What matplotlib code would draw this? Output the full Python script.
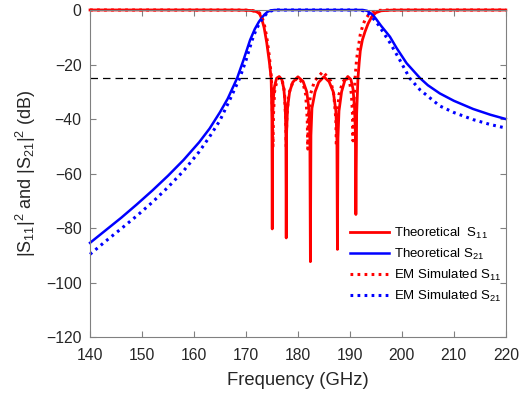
import matplotlib.pyplot as plt

plt.rcParams['font.family'] = ['Liberation Sans', 'DejaVu Sans']
plt.rcParams['mathtext.fontset'] = 'custom'
plt.rcParams['mathtext.rm'] = 'Liberation Sans'
plt.rcParams['mathtext.it'] = 'Liberation Sans'

# Theoretical S11 (GHz, dB)
f_s11_th = [140, 160, 168, 170, 171, 172, 172.6, 173.0, 173.5, 174.0, 174.5, 174.85,
            175.0, 175.06, 175.12, 175.25, 175.5, 175.9, 176.4, 176.9, 177.3, 177.55,
            177.68, 177.75, 177.82, 178.0, 178.4, 179.0, 180.0, 181.0, 181.7, 182.1,
            182.3, 182.4, 182.5, 182.7, 183.3, 184.0, 185.0, 186.0, 186.8, 187.3,
            187.5, 187.6, 187.7, 187.9, 188.4, 189.0, 189.6, 190.2, 190.6, 190.9,
            191.05, 191.15, 191.3, 191.55, 191.8, 192.0, 192.4, 192.9, 193.5, 194.2,
            195.0, 196.0, 198.0, 202.0, 220]
s11_th = [0, 0, -0.02, -0.08, -0.2, -0.6, -1.3, -3, -6.5, -12, -19, -25,
          -40, -80.3, -42, -33, -28, -25, -24.4, -25.5, -29, -35,
          -45, -83.6, -45, -36, -30, -26.5, -24.5, -26.2, -30, -36,
          -46, -92.3, -46, -36, -30, -26.5, -24.5, -26.3, -30, -37,
          -47, -87.8, -47, -37, -30, -26, -24.4, -25.5, -29, -36,
          -45, -75, -38, -25, -19, -15, -11, -8, -5, -2.5,
          -1, -0.3, -0.05, -0.01, 0]

# Theoretical S21
f_s21_th = [140, 143, 146, 149, 152, 155, 158, 161, 163, 165, 166.5, 168.3, 169.5,
            170.8, 171.7, 172.5, 173.0, 173.6, 174.2, 174.8, 175.5, 192.5, 193.3,
            194.0, 194.4, 195.0, 196.0, 197.7, 199.0, 200.9, 203.5, 205.0, 207.3,
            210.0, 213.7, 217.0, 220]
s21_th = [-85.4, -80.8, -76.2, -71.3, -66.2, -60.8, -55, -48.5, -43.5, -37.5, -32.5, -25, -18.5,
          -11, -7, -4.3, -3, -1.6, -0.6, -0.15, 0, 0, -0.3,
          -1.2, -1.8, -3.2, -5.8, -9.8, -14, -19.5, -25, -27.6, -30.6,
          -33.3, -36.3, -38.4, -40]

# EM simulated S11
f_s11_em = [140, 168, 170, 171, 172, 172.6, 173.0, 173.5, 174.0, 174.5, 174.9, 175.1,
            175.2, 175.3, 175.5, 176.0, 176.4, 177.0, 177.4, 177.65, 177.75, 177.85,
            178.2, 179.0, 180.0, 181.0, 181.5, 181.8, 181.9, 182.0, 182.4, 183.2,
            184.8, 186.3, 186.9, 187.3, 187.4, 187.5, 187.9, 188.6, 189.4, 190.0,
            190.3, 190.5, 190.6, 190.75, 191.0, 191.3, 191.6, 192.0, 192.5, 192.9,
            193.5, 194.3, 195.2, 197.0, 220]
s11_em = [0, -0.02, -0.06, -0.15, -0.5, -1.1, -2.2, -5, -10, -17, -25, -38,
          -50, -38, -30, -25.5, -24.8, -26, -30, -40, -50, -40,
          -31, -26.5, -24.8, -27, -31, -40, -51, -40, -31, -26,
          -22.6, -26, -31, -40, -50, -40, -31, -26.5, -24.5, -27,
          -31, -38, -48, -35, -25, -18, -14, -9, -5.5, -3.7,
          -2, -0.8, -0.2, -0.02, 0]

# EM simulated S21
f_s21_em = [140, 143, 146, 149, 152, 155, 158, 161, 163, 165, 167, 168.8, 170.0,
            171.2, 172.0, 172.8, 173.3, 174.0, 174.6, 175.3, 176.0, 192.0, 192.8,
            193.5, 194.4, 195.5, 197.7, 199.5, 201.5, 203.5, 207.3, 210.0, 213.7,
            217.0, 220]
s21_em = [-89.6, -84.8, -80.2, -75.5, -70.5, -65, -59, -52, -46.5, -40.5, -32.5, -25, -18.5,
          -11, -7, -4.3, -2.8, -1.3, -0.5, -0.1, 0, 0, -0.4,
          -1.2, -2.9, -5.5, -12, -18, -25, -29.3, -35.2, -37.6, -40.2,
          -42, -43.3]

ripple_level = -25

fig = plt.figure(figsize=(5.28, 3.93), dpi=100)
ax = fig.add_axes([0.1705, 0.142, 0.7875, 0.8326])

dot = (0, (0.9, 1.4))
ax.plot(f_s11_th, s11_th, color='red', lw=2, clip_on=False, label='Theoretical  S$_{11}$')
ax.plot(f_s21_th, s21_th, color='blue', lw=1.8, clip_on=False, label='Theoretical S$_{21}$')
ax.plot(f_s11_em, s11_em, color='red', lw=2.2, ls=dot, clip_on=False, label='EM Simulated S$_{11}$')
ax.plot(f_s21_em, s21_em, color='blue', lw=2.2, ls=dot, clip_on=False, label='EM Simulated S$_{21}$')
ax.axhline(ripple_level, color='black', lw=0.9, ls=(0, (6, 4)))

ax.set_xlim(140, 220)
ax.set_ylim(-120, 0)
ax.set_xticks(range(140, 221, 10))
ax.set_yticks(range(-120, 1, 20))
ax.tick_params(direction='in', top=True, right=True, length=4, width=0.8,
               color='#808080', labelcolor='#262626', labelsize=11.3)
ax.tick_params(axis='x', pad=8)
ax.tick_params(axis='y', pad=6)
for s in ax.spines.values():
    s.set_color('#808080')
    s.set_linewidth(0.8)

ax.set_xlabel('Frequency (GHz)', fontsize=13.3, color='#262626', labelpad=6)
ax.set_ylabel('|S$_{11}$|$^2$ and |S$_{21}$|$^2$ (dB)', fontsize=13, color='#262626', labelpad=6)

ax.legend(loc='center left', bbox_to_anchor=(0.625, 0.221), frameon=False,
          fontsize=9.5, handlelength=3.0, handletextpad=0.35, labelspacing=0.45,
          borderpad=0, borderaxespad=0)

plt.savefig('out.png', dpi=100)
